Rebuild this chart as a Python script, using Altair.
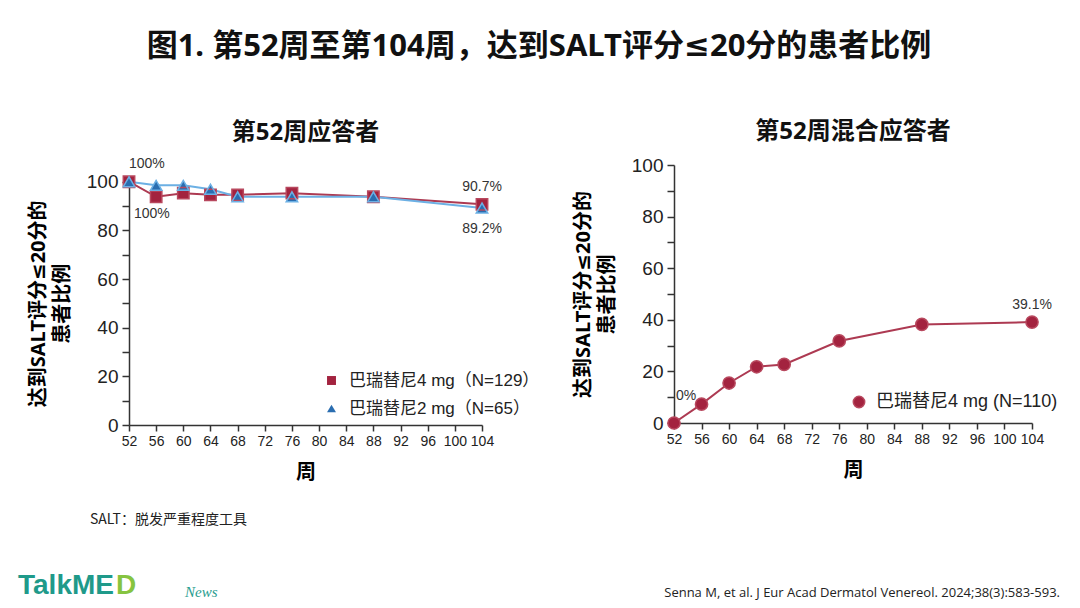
import altair as alt
import pandas as pd

# ---------------- data ----------------
weeks = [52, 56, 60, 64, 68, 76, 88, 104]
pct_4mg = [100, 93.8, 95.3, 94.6, 94.6, 95.3, 93.8, 90.7]
pct_2mg = [100, 98.5, 98.5, 96.9, 93.8, 93.8, 93.8, 89.2]
pct_mixed = [0, 7.3, 15.5, 21.8, 22.7, 31.8, 38.2, 39.1]
x_ticks = list(range(52, 105, 4))
y_ticks = list(range(0, 101, 10))
series_left = ["巴瑞替尼4 mg（N=129）", "巴瑞替尼2 mg（N=65）"]
series_right = ["巴瑞替尼4 mg (N=110)"]

main_title = "图1. 第52周至第104周，达到SALT评分≤20分的患者比例"
left_title = "第52周应答者"
right_title = "第52周混合应答者"
y_title = ["达到SALT评分≤20分的", "患者比例"]
x_title = "周"
footnote = "SALT：脱发严重程度工具"
citation = "Senna M, et al. J Eur Acad Dermatol Venereol. 2024;38(3):583-593."

CJK = "Noto Sans CJK SC"
TIT = "Noto Sans, DejaVu Sans, Noto Sans CJK SC"
LAT = "Liberation Sans, Noto Sans CJK SC"
RED = "#a3233f"
RED_LINE = "#ad3a52"
RED_EDGE = "#b8485e"
BLUE_FILL = "#2a6db0"
BLUE_LINE = "#6cb0e4"

left_df = pd.DataFrame({
    "week": weeks + weeks,
    "pct": pct_4mg + pct_2mg,
    "series": [series_left[0]] * len(weeks) + [series_left[1]] * len(weeks),
})
right_df = pd.DataFrame({"week": weeks, "pct": pct_mixed, "series": series_right * len(weeks)})

AX = dict(grid=False, domainColor="#333", tickColor="#333", labelColor="#222",
          domainWidth=1.5, tickWidth=1.5, labelOverlap=False, labelFlush=False)


def x_enc():
    return alt.X("week:Q", scale=alt.Scale(domain=[52, 104], nice=False, zero=False),
                 axis=alt.Axis(values=x_ticks, labelFontSize=14, labelFont=LAT, tickSize=6,
                               labelPadding=3, title=x_title, titleFont=CJK, titleFontSize=20,
                               titleFontWeight="bold", titlePadding=14, **AX))


def y_enc(rng=None):
    sc = alt.Scale(domain=[0, 100], nice=False, zero=True)
    if rng is not None:
        sc = alt.Scale(domain=[0, 100], nice=False, zero=True, range=rng)
    return alt.Y("pct:Q", scale=sc,
                 axis=alt.Axis(values=y_ticks,
                               labelExpr="datum.value % 20 == 0 ? datum.label : ''",
                               labelFontSize=19, labelFont=LAT, tickSize=7, labelPadding=4,
                               title=y_title, titleFont=TIT, titleFontSize=20,
                               titleFontWeight="bold", titleLineHeight=24, titlePadding=14, **AX))


LEFT_RANGE = [260, 16.7]


def ann(vals, dx, dy, align="left", yr=None):
    return alt.Chart(pd.DataFrame(vals)).mark_text(
        dx=dx, dy=dy, align=align, fontSize=14, font=LAT, color="#333"
    ).encode(x=x_enc(), y=y_enc(yr), text="label:N")


# ---------------- left panel ----------------
left_lines = alt.Chart(left_df).mark_line(strokeWidth=2).encode(
    x=x_enc(), y=y_enc(LEFT_RANGE),
    stroke=alt.Stroke("series:N", scale=alt.Scale(domain=series_left, range=[RED_LINE, BLUE_LINE]),
                      legend=None),
)
left_points = alt.Chart(left_df).mark_point(filled=True, size=130, strokeWidth=1.5, opacity=1).encode(
    x=x_enc(), y=y_enc(LEFT_RANGE),
    color=alt.Color("series:N", scale=alt.Scale(domain=series_left, range=[RED, BLUE_FILL]),
                    legend=alt.Legend(orient="none", legendX=194, legendY=207, title=None,
                                      labelFontSize=17, labelFont=LAT, labelColor="#222",
                                      symbolSize=80, rowPadding=10, labelOffset=9,
                                      labelLimit=300)),
    shape=alt.Shape("series:N", scale=alt.Scale(domain=series_left, range=["square", "triangle-up"])),
)
left_edges = alt.Chart(left_df).mark_point(filled=False, size=130, strokeWidth=1.5, opacity=1).encode(
    x=x_enc(), y=y_enc(LEFT_RANGE),
    shape=alt.Shape("series:N", scale=alt.Scale(domain=series_left, range=["square", "triangle-up"]),
                    legend=None),
    stroke=alt.condition(f"datum.series == '{series_left[1]}'", alt.value(BLUE_LINE), alt.value(RED_EDGE)),
)
left_ann = alt.layer(
    ann({"week": [52], "pct": [100], "label": ["100%"]}, 0, -18, "left", LEFT_RANGE),
    ann({"week": [52], "pct": [100], "label": ["100%"]}, 5, 32, "left", LEFT_RANGE),
    ann({"week": [104], "pct": [90.7], "label": ["90.7%"]}, 20, -17, "right", LEFT_RANGE),
    ann({"week": [104], "pct": [89.2], "label": ["89.2%"]}, 20, 21, "right", LEFT_RANGE),
)
left_foot = alt.Chart(pd.DataFrame({"t": [footnote]})).mark_text(
    align="left", fontSize=14, font=CJK, color="#222").encode(
    x=alt.value(-39), y=alt.value(355), text="t:N")
logo1 = alt.Chart(pd.DataFrame({"t": ["TalkME"]})).mark_text(
    align="left", fontSize=28, font="Liberation Sans", fontWeight="bold", color="#1f9a8a").encode(
    x=alt.value(-111), y=alt.value(421), text="t:N")
logo2 = alt.Chart(pd.DataFrame({"t": ["D"]})).mark_text(
    align="left", fontSize=28, font="Liberation Sans", fontWeight="bold", color="#86c440").encode(
    x=alt.value(-13), y=alt.value(421), text="t:N")
logo3 = alt.Chart(pd.DataFrame({"t": ["News"]})).mark_text(
    align="left", fontSize=15, font="Liberation Serif", fontStyle="italic", color="#2a9d8f").encode(
    x=alt.value(56), y=alt.value(427), text="t:N")

left = alt.layer(left_lines, left_points, left_edges, left_ann, left_foot, logo1, logo2, logo3).properties(
    width=353, height=260,
    title=alt.TitleParams(left_title, font=TIT, fontSize=24, fontWeight="bold", offset=12, color="#111"),
)

# ---------------- right panel ----------------
right_line = alt.Chart(right_df).mark_line(strokeWidth=2, color=RED_LINE).encode(x=x_enc(), y=y_enc())
right_points = alt.Chart(right_df).mark_point(filled=True, size=150, strokeWidth=1.5, opacity=1,
                                              stroke=RED_EDGE, shape="circle").encode(
    x=x_enc(), y=y_enc(),
    color=alt.Color("series:N", scale=alt.Scale(domain=series_right, range=[RED]),
                    legend=alt.Legend(orient="none", legendX=176, legendY=228, title=None,
                                      labelFontSize=18, labelFont=LAT, labelColor="#222",
                                      symbolSize=130, labelOffset=8, labelLimit=300)),
)
right_ann = alt.layer(
    ann({"week": [52], "pct": [0], "label": ["0%"]}, 2, -27),
    ann({"week": [104], "pct": [39.1], "label": ["39.1%"]}, 20, -17, "right"),
)
right_cite = alt.Chart(pd.DataFrame({"t": [citation]})).mark_text(
    align="right", fontSize=13, font="Open Sans", color="#222").encode(
    x=alt.value(386), y=alt.value(428), text="t:N")
right = alt.layer(right_line, right_points, right_ann, right_cite).properties(
    width=358, height=258,
    title=alt.TitleParams(right_title, font=TIT, fontSize=24, fontWeight="bold", offset=12, color="#111"),
)

chart = alt.hconcat(left, right, spacing=33).properties(
    title=alt.TitleParams(main_title, font=TIT, fontSize=31, fontWeight="bold", anchor="middle",
                          offset=57, color="#111"),
    padding={"left": 10, "top": 23, "right": 5, "bottom": 5},
    background="white",
).configure_view(stroke=None).resolve_scale(color="independent", shape="independent")

chart.save("out.html", embed_options={"renderer": "svg", "actions": False})
